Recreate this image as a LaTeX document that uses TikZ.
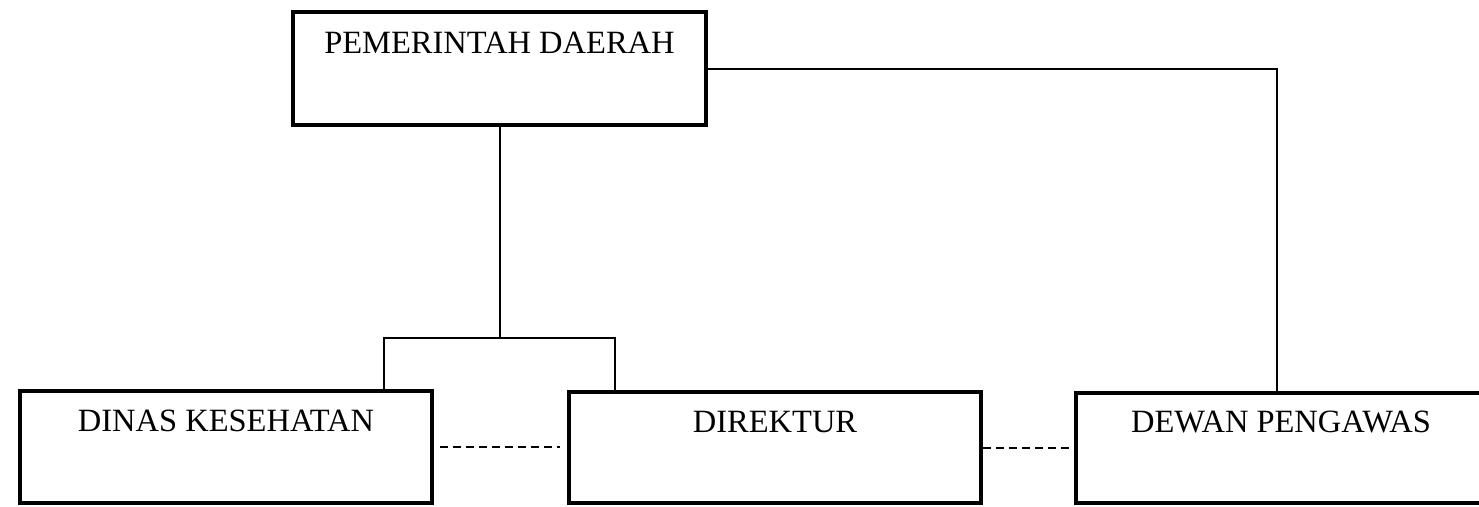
\documentclass[tikz,border=0pt]{standalone}
\usepackage{fontspec}
\setmainfont{Liberation Serif}
\begin{document}
\begin{tikzpicture}[x=1pt,y=-1pt,
  orgbox/.style={draw, line width=4.5pt, inner sep=0pt, minimum width=#1},
  conn/.style={line width=2pt},
  dashline/.style={line width=2pt, dash pattern=on 8pt off 5pt},
  lbl/.style={anchor=base, inner sep=0pt, font=\fontsize{32.5}{38}\selectfont}]
\useasboundingbox (0,0) rectangle (1479,506);
\clip (0,0) rectangle (1479,506);
\fill[white] (0,0) rectangle (1479,506);
% boxes
\node[orgbox=413pt, minimum height=113pt] (top) at (499.5,68.5) {};
\node[orgbox=412pt, minimum height=112pt] (dinas) at (226,447) {};
\node[orgbox=412pt, minimum height=111pt] (dir) at (775,447.5) {};
\node[orgbox=410pt, minimum height=110pt] (dewan) at (1281,448) {};
% labels
\node[lbl] (ttop) at ([yshift=-44pt]top.north) {PEMERINTAH DAERAH};
\node[lbl] (tdinas) at ([yshift=-43pt]dinas.north) {DINAS KESEHATAN};
\node[lbl] (tdir) at ([yshift=-43pt]dir.north) {DIREKTUR};
\node[lbl] (tdewan) at ([yshift=-42pt]dewan.north) {DEWAN PENGAWAS};
% connectors
\coordinate (j) at (499.5,338);
\draw[conn] (top.south) -- (j);
\draw[conn] ([xshift=158pt]dinas.north) |- (j) -| ([xshift=-160pt]dir.north);
\draw[conn] (top.east) -| ([xshift=-4pt]dewan.north);
\draw[dashline, shorten <=6pt, shorten >=7pt] (dinas.east) -- (dinas.east -| dir.west);
\draw[dashline] (dir.east) -- (dir.east -| dewan.west);
\end{tikzpicture}
\end{document}
